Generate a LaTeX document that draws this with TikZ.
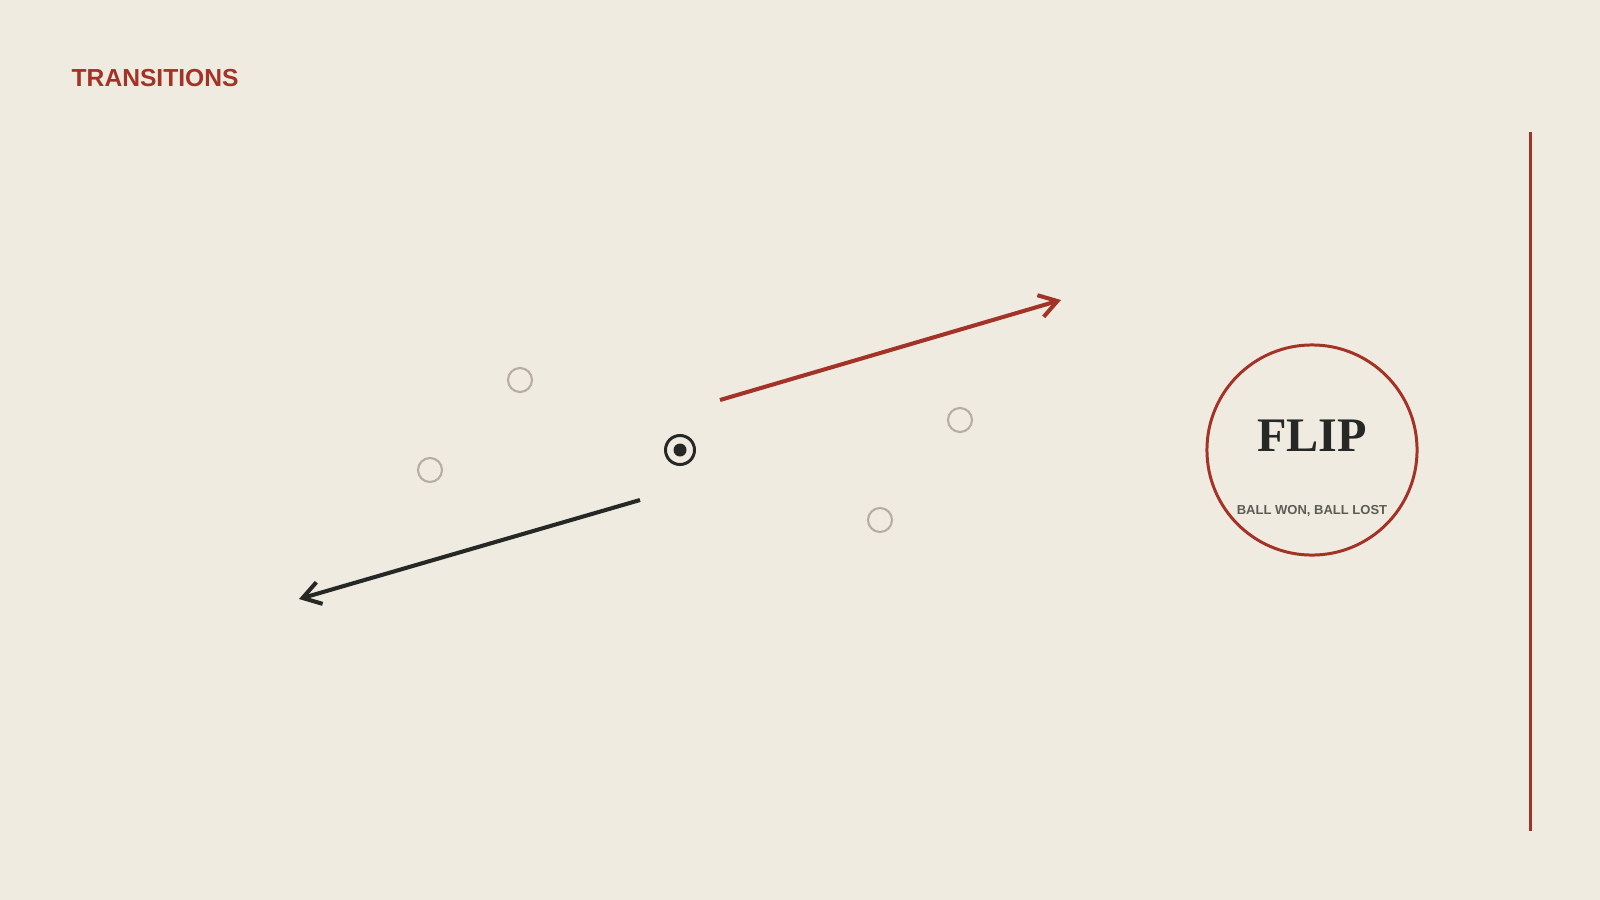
\documentclass[tikz,border=0pt]{standalone}
\usepackage{fontspec}
\setmainfont{Liberation Serif}
\newfontfamily\labelfont{Liberation Sans}
\usetikzlibrary{arrows.meta}

\definecolor{paper}{HTML}{F0EBE1}
\definecolor{flipred}{HTML}{A33327}
\definecolor{ink}{HTML}{262826}
\definecolor{ghost}{HTML}{B6AEA3}
\definecolor{caption}{HTML}{5B5C55}

\tikzset{
  player/.style={draw=ghost, line width=0.6pt, circle, minimum size=0.24cm, inner sep=0pt},
  run/.style={line width=1.15pt, -{Straight Barb[length=5pt, width=6.4pt]}},
}

\begin{document}
\begin{tikzpicture}[x=0.01cm, y=-0.01cm]
    % Background and frame
    \fill[paper] (0,0) rectangle (1600,900);
    \useasboundingbox (0,0) rectangle (1600,900);

    % Title
    \node[anchor=base west, inner sep=0pt, text=flipred, font=\labelfont\bfseries\fontsize{7pt}{8pt}\selectfont] (title) at (71,87) {TRANSITIONS};

    % Define the nodes
    \node[draw=ink, line width=0.85pt, circle, minimum size=0.29cm, inner sep=0pt] (ball) at (680,450) {};
    \fill[ink] (ball.center) circle[radius=6.5];
    \node[player] (p1) at (520,380) {};
    \node[player] (p2) at (430,470) {};
    \node[player] (p3) at (960,420) {};
    \node[player] (p4) at (880,520) {};
    \node[draw=flipred, line width=0.85pt, circle, minimum size=2.1cm, inner sep=0pt] (flip) at (1312,450) {};
    \node[anchor=base, inner sep=0pt, text=ink, font=\bfseries\fontsize{13.7pt}{15pt}\selectfont] (fliptext) at (1312,451) {FLIP};
    \node[anchor=base, inner sep=0pt, text=caption, font=\labelfont\bfseries\fontsize{3.7pt}{4pt}\selectfont] (fliplabel) at (1312,514) {BALL WON, BALL LOST};

    % Arrow ends
    \coordinate (winStart) at (720,400);
    \coordinate (winEnd) at (1061,300);
    \coordinate (loseStart) at (640,500);
    \coordinate (loseEnd) at (299,599);
    \coordinate (lineTop) at (1530,132);
    \coordinate (lineBottom) at (1530,831);

    % Draw the edges
    \draw[run, flipred] (winStart) -- (winEnd);
    \draw[run, ink] (loseStart) -- (loseEnd);
    \draw[flipred, line width=0.85pt] (lineTop) -- (lineBottom);
\end{tikzpicture}
\end{document}
